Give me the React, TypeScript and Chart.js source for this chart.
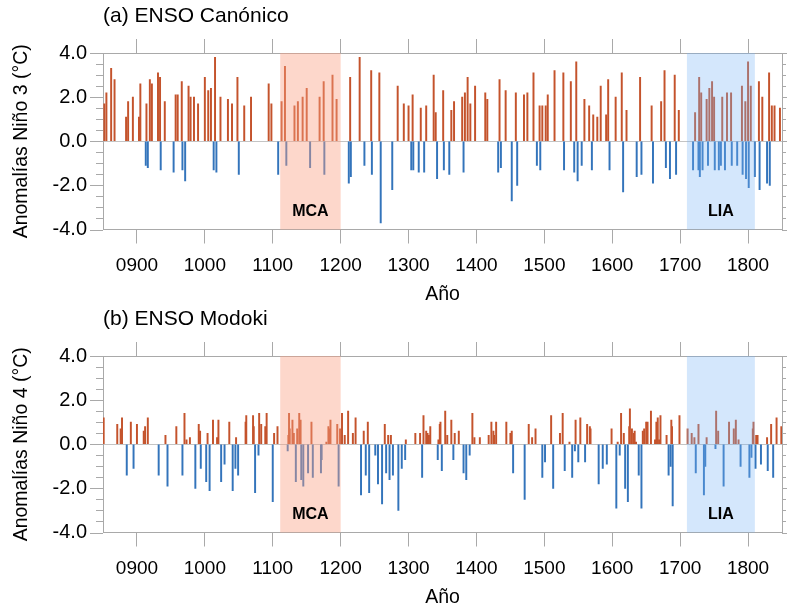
import React, { useEffect, useRef } from "react";
import { Chart, registerables } from "chart.js";

Chart.register(...registerables);

// ---------------- DATA ----------------
const nino3Years = [
  852, 855, 862, 867, 884, 887, 894, 903, 905, 913, 914, 916, 919, 922, 931, 934, 935, 941, 954, 957,
  960, 966, 967, 971, 976, 979, 984, 990, 1000, 1005, 1009, 1013, 1015, 1017, 1023, 1034, 1040, 1048, 1050, 1058,
  1068, 1094, 1098, 1108, 1113, 1118, 1120, 1132, 1137, 1144, 1150, 1155, 1169, 1175, 1176, 1188, 1194, 1212, 1214, 1215,
  1228, 1235, 1245, 1246, 1257, 1259, 1276, 1284, 1293, 1300, 1304, 1306, 1307, 1315, 1318, 1323, 1326, 1337, 1340, 1342,
  1351, 1352, 1360, 1363, 1367, 1379, 1381, 1383, 1387, 1391, 1398, 1413, 1416, 1432, 1434, 1436, 1443, 1452, 1458, 1460,
  1470, 1475, 1484, 1489, 1493, 1494, 1497, 1502, 1505, 1515, 1528, 1529, 1539, 1544, 1547, 1549, 1555, 1559, 1566, 1570,
  1572, 1578, 1583, 1591, 1594, 1596, 1605, 1614, 1616, 1621, 1636, 1641, 1643, 1658, 1660, 1672, 1677, 1679, 1685, 1692,
  1694, 1698, 1719, 1722, 1727, 1728, 1729, 1731, 1733, 1739, 1741, 1743, 1747, 1750, 1751, 1757, 1760, 1762, 1766, 1769,
  1775, 1776, 1784, 1791, 1792, 1796, 1797, 1800, 1801, 1804, 1810, 1816, 1817, 1821, 1828, 1831, 1832, 1835, 1839, 1847,
];
const nino3Values = [
  1.7, 2.2, 3.3, 2.8, 1.1, 1.8, 2.0, 1.1, 2.6, -1.1, 1.7, -1.2, 2.8, 2.6, 3.1, 2.9, -1.3, 1.8, -1.4, 2.1,
  2.1, 2.7, -1.3, -1.8, 2.5, 2.0, 2.0, 1.7, 2.9, 2.3, 2.4, -1.3, 3.8, -1.4, 2.0, 1.9, 1.7, 2.9, -1.5, 1.6,
  2.0, 2.6, 1.7, -1.5, 1.8, 3.4, -1.1, 1.6, 1.8, 2.0, 2.4, -1.2, 2.0, 2.7, -1.5, 3.0, 1.9, -1.9, 2.9, -1.6,
  3.8, -1.1, 3.2, -1.5, 3.1, -3.7, -2.2, 2.5, 1.7, 1.6, -1.3, 2.1, -1.3, -1.4, 1.5, -1.4, 1.6, 3.0, 1.3, -1.7,
  2.3, -1.3, -1.5, 1.4, 1.8, 2.0, -1.4, 2.2, 2.9, 1.7, 2.5, 2.2, 1.9, -1.4, 2.8, -1.2, 2.3, -2.7, 2.2, -2.0,
  2.1, 2.2, 3.1, -1.1, 1.6, -1.3, 1.6, 1.6, 2.1, 3.2, 3.1, -1.3, 2.7, -1.4, 3.6, -1.8, -1.1, 1.9, 1.6, -1.3,
  1.2, 1.1, 2.5, 1.2, 2.8, -1.3, 2.0, 3.1, -2.3, 1.4, -1.6, 2.9, -1.5, 1.6, -1.9, 1.8, 3.2, -1.2, -1.7, 3.0,
  -1.5, 1.4, -1.3, 1.3, -1.3, 2.9, -1.6, 2.2, -1.3, 1.9, -1.1, 2.4, 2.7, 2.0, -1.3, -1.3, -1.1, 2.0, -1.3, 2.2,
  2.2, -1.1, -1.1, 2.5, -1.5, 1.8, -1.7, 3.6, -2.1, 2.5, -1.6, 2.7, -2.2, 2.0, -1.9, 3.1, -2.0, 1.6, 1.6, 1.5,
];

const nino4Years = [
  851, 871, 876, 878, 885, 891, 895, 900, 910, 912, 916, 932, 942, 945, 958, 967, 970, 973, 978, 986,
  991, 993, 994, 1002, 1004, 1007, 1012, 1018, 1020, 1024, 1029, 1036, 1041, 1045, 1046, 1049, 1060, 1061, 1071, 1072,
  1074, 1079, 1080, 1083, 1089, 1091, 1100, 1102, 1107, 1122, 1123, 1124, 1125, 1129, 1131, 1134, 1136, 1139, 1141, 1142,
  1145, 1152, 1157, 1159, 1171, 1172, 1179, 1182, 1183, 1185, 1195, 1197, 1199, 1202, 1206, 1211, 1218, 1222, 1230, 1234,
  1237, 1240, 1242, 1251, 1255, 1261, 1265, 1267, 1270, 1272, 1274, 1277, 1285, 1290, 1295, 1296, 1310, 1317, 1320, 1322,
  1326, 1328, 1330, 1332, 1343, 1344, 1346, 1347, 1349, 1354, 1357, 1363, 1366, 1368, 1374, 1381, 1385, 1390, 1394, 1397,
  1405, 1418, 1422, 1425, 1426, 1429, 1444, 1450, 1452, 1454, 1471, 1477, 1482, 1487, 1497, 1501, 1510, 1513, 1523, 1527,
  1530, 1537, 1541, 1545, 1546, 1550, 1553, 1560, 1563, 1567, 1568, 1580, 1586, 1592, 1599, 1606, 1608, 1611, 1613, 1617,
  1619, 1623, 1625, 1626, 1629, 1632, 1633, 1635, 1639, 1643, 1645, 1647, 1650, 1652, 1657, 1663, 1665, 1667, 1669, 1671,
  1680, 1683, 1686, 1687, 1688, 1689, 1699, 1711, 1717, 1721, 1723, 1727, 1735, 1737, 1739, 1752, 1753, 1756, 1764, 1772,
  1779, 1782, 1786, 1789, 1802, 1805, 1807, 1808, 1811, 1812, 1814, 1819, 1828, 1829, 1834, 1837, 1842, 1849,
];
const nino4Values = [
  1.2, 0.9, 0.7, 1.2, -1.4, 1.0, -1.1, 0.9, 0.6, 0.8, 1.2, -1.4, 0.4, -1.9, 0.8, -1.4, 1.4, 0.2, 0.3, -2.0,
  0.9, 0.6, -1.1, -1.7, 0.5, -2.1, 1.1, 0.3, 1.1, -1.7, -0.9, 1.0, -2.1, -1.1, 0.3, -1.4, 1.0, 1.3, 1.3, 0.8,
  -2.2, -0.5, 1.4, 0.9, 0.8, 1.4, -2.6, 0.5, 0.8, -0.3, 0.4, 1.4, 0.7, 1.1, 0.5, -1.7, 0.7, 1.4, 1.1, -1.6,
  -1.9, -1.3, 1.0, -1.5, -1.3, -0.7, 0.1, 0.8, 0.7, 1.1, 0.9, -1.9, 0.7, 1.4, 0.4, 1.5, 0.5, 1.2, -2.3, 0.6,
  -1.4, 1.0, -2.2, -0.5, -1.8, -2.7, 0.9, -1.3, 0.4, -1.6, 0.4, -1.4, -3.0, -1.1, -0.7, 0.2, 0.5, 0.5, -1.5, 1.3,
  0.6, 0.5, 0.4, 0.8, -0.7, 0.2, 0.9, 1.0, -1.2, 1.5, 0.4, 1.1, -0.7, 0.5, 0.6, -1.3, -1.6, -0.5, 1.4, 0.3,
  0.3, 0.4, 1.0, 0.6, 0.4, 1.0, 1.0, 0.5, 0.6, -1.3, -2.5, 0.9, 0.3, 0.7, -1.5, -0.8, 1.3, -2.0, 0.5, 1.4,
  -1.2, 0.1, -1.5, -0.3, 1.1, -0.8, 1.2, -0.8, 0.9, 0.8, 0.7, -1.8, -1.1, -0.9, 0.7, -2.9, 0.1, -0.5, 1.4, 0.5,
  -2.0, -2.6, 0.8, 1.6, 0.7, 0.5, 0.6, 0.1, -1.4, -2.9, 0.6, 0.7, 1.0, 1.0, 1.5, 0.2, 1.0, 1.2, 0.2, 1.3,
  0.4, -1.4, -1.0, 1.1, 0.8, -2.8, 1.3, 0.7, 0.5, 0.3, -1.3, 0.9, -2.3, -1.0, 0.3, -0.2, 1.5, 0.6, -1.9, 1.0,
  0.7, 1.1, 0.2, -1.0, -1.5, -0.6, 0.7, 1.0, -1.1, 0.4, 0.4, -0.9, 0.3, -1.2, 0.9, -1.5, 1.2, 0.8,
];

const yearTicks = [900, 1000, 1100, 1200, 1300, 1400, 1500, 1600, 1700, 1800];
const yMajorTicks = [-4, -2, 0, 2, 4];
const yMinorStep = 0.5;
const xRange = [850, 1850];
const yRange = [-4, 4];

const mcaPeriod = [1111, 1200];
const liaPeriod = [1710, 1810];
const periodLabels = ["MCA", "LIA"];

// ---------------- STYLE ----------------
const FONT = "'Liberation Sans', Arial, Helvetica, sans-serif";
const AXIS_GRAY = "#a9a9a9";
const RED = "#c4532c";
const BLUE = "#3374bb";

Chart.defaults.font.family = FONT;

const overlayPlugin = {
  id: "overlay",
  afterDatasetsDraw(chart: any) {
    const { ctx, chartArea, scales } = chart;
    const xs = scales.x;
    const ys = scales.y;
    const periods = [
      { range: mcaPeriod, fill: "rgba(250,160,130,0.42)", label: periodLabels[0] },
      { range: liaPeriod, fill: "rgba(120,180,245,0.32)", label: periodLabels[1] },
    ];
    ctx.save();
    for (const p of periods) {
      const x0 = xs.getPixelForValue(p.range[0]);
      const x1 = xs.getPixelForValue(p.range[1]);
      ctx.fillStyle = p.fill;
      ctx.fillRect(x0, chartArea.top, x1 - x0, chartArea.bottom - chartArea.top);
    }
    for (const p of periods) {
      const x0 = xs.getPixelForValue(p.range[0]);
      const x1 = xs.getPixelForValue(p.range[1]);
      ctx.fillStyle = "#000";
      ctx.font = `bold 16px ${FONT}`;
      ctx.textAlign = "center";
      ctx.textBaseline = "middle";
      ctx.fillText(p.label, (x0 + x1) / 2, ys.getPixelForValue(-3.17));
    }
    // y ticks (major + minor) on left and right
    ctx.strokeStyle = AXIS_GRAY;
    ctx.lineWidth = 1;
    ctx.beginPath();
    const n = Math.round((yRange[1] - yRange[0]) / yMinorStep);
    for (let i = 0; i <= n; i++) {
      const v = yRange[0] + i * yMinorStep;
      const major = yMajorTicks.some((m) => Math.abs(m - v) < 1e-6);
      const py = Math.round(ys.getPixelForValue(v)) + 0.5;
      const lenL = major ? 13 : 7;
      const lenR = major ? 5 : 4;
      ctx.moveTo(chartArea.left - lenL, py);
      ctx.lineTo(chartArea.left, py);
      ctx.moveTo(chartArea.right, py);
      ctx.lineTo(chartArea.right + lenR, py);
    }
    ctx.stroke();
    ctx.restore();
  },
};

type PanelProps = { years: number[]; values: number[]; title: string; yTitle: string };

function Panel({ years, values, title, yTitle }: PanelProps) {
  const ref = useRef<HTMLCanvasElement | null>(null);
  useEffect(() => {
    if (!ref.current) return;
    const data = years.map((x, i) => ({ x, y: values[i] }));
    const colors = values.map((v) => (v >= 0 ? RED : BLUE));
    const yearTickBuilder = (s: any) => {
      s.ticks = yearTicks.map((value) => ({ value }));
    };
    const chart = new Chart(ref.current, {
      type: "bar",
      data: {
        datasets: [
          {
            data,
            backgroundColor: colors,
            borderWidth: 0,
            barThickness: 1.3,
            xAxisID: "x",
            yAxisID: "y",
          } as any,
        ],
      },
      options: {
        responsive: false,
        animation: false,
        events: [],
        layout: { padding: 0 },
        plugins: {
          legend: { display: false },
          tooltip: { enabled: false },
          title: {
            display: true,
            text: title,
            align: "start",
            fullSize: false,
            color: "#000",
            font: { size: 21, weight: "normal", family: FONT },
            padding: { top: 3.5, bottom: 0 },
          } as any,
        },
        scales: {
          x: {
            type: "linear",
            position: "bottom",
            min: xRange[0],
            max: xRange[1],
            offset: false,
            afterBuildTicks: yearTickBuilder,
            afterFit: (s: any) => {
              s.height = 76.5;
            },
            grid: {
              offset: false,
              drawOnChartArea: false,
              drawTicks: true,
              tickLength: 14,
              color: AXIS_GRAY,
            },
            border: { display: true, color: AXIS_GRAY, width: 1 },
            ticks: {
              color: "#000",
              font: { size: 19, family: FONT },
              padding: 10.5,
              maxRotation: 0,
              autoSkip: false,
              callback: (v: any) => String(v).padStart(4, "0"),
            },
            title: {
              display: true,
              text: "Año",
              color: "#000",
              font: { size: 19.5, family: FONT },
              padding: { top: 0, bottom: 0 },
            },
          },
          xTop: {
            type: "linear",
            axis: "x",
            position: "top",
            min: xRange[0],
            max: xRange[1],
            offset: false,
            afterBuildTicks: yearTickBuilder,
            afterFit: (s: any) => {
              s.height = 24.3;
            },
            grid: {
              offset: false,
              drawOnChartArea: false,
              drawTicks: true,
              tickLength: 14,
              color: AXIS_GRAY,
            },
            border: { display: true, color: AXIS_GRAY, width: 1 },
            ticks: { display: false },
          },
          y: {
            type: "linear",
            position: "left",
            min: yRange[0],
            max: yRange[1],
            afterBuildTicks: (s: any) => {
              s.ticks = yMajorTicks.map((value) => ({ value }));
            },
            afterFit: (s: any) => {
              s.width = 103;
            },
            grid: {
              drawOnChartArea: true,
              drawTicks: false,
              color: (c: any) => (c.tick && c.tick.value === 0 ? "#c4c4c4" : "rgba(0,0,0,0)"),
            },
            border: { display: true, color: AXIS_GRAY, width: 1 },
            ticks: {
              color: "#000",
              font: { size: 20, family: FONT },
              padding: 16,
              callback: (v: any) => Number(v).toFixed(1),
            },
            title: {
              display: true,
              text: yTitle,
              color: "#000",
              font: { size: 19.5, family: FONT },
              padding: { top: 10.3, bottom: 0 },
            },
          },
          yRight: {
            type: "linear",
            axis: "y",
            position: "right",
            min: yRange[0],
            max: yRange[1],
            afterFit: (s: any) => {
              s.width = 5;
            },
            grid: { drawOnChartArea: false, drawTicks: false, color: "rgba(0,0,0,0)" },
            border: { display: true, color: AXIS_GRAY, width: 1 },
            ticks: { display: false },
          },
        } as any,
      },
      plugins: [overlayPlugin],
    });
    return () => chart.destroy();
  }, [years, values, title, yTitle]);
  return <canvas ref={ref} width={787} height={306} style={{ display: "block" }} />;
}

export default function App() {
  return (
    <div style={{ position: "absolute", left: 0, top: 0, width: 787, height: 611, background: "#fff", overflow: "hidden" }}>
      <div style={{ position: "absolute", left: 0, top: 0 }}>
        <Panel years={nino3Years} values={nino3Values} title="(a) ENSO Canónico" yTitle="Anomalías Niño 3 (°C)" />
      </div>
      <div style={{ position: "absolute", left: 0, top: 303 }}>
        <Panel years={nino4Years} values={nino4Values} title="(b) ENSO Modoki" yTitle="Anomalías Niño 4 (°C)" />
      </div>
    </div>
  );
}
